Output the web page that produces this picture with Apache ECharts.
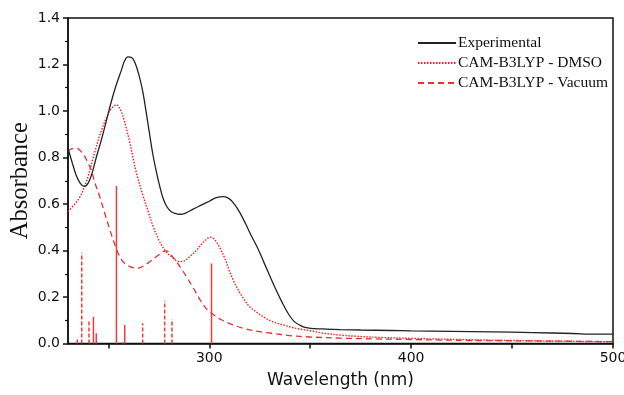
<!DOCTYPE html>
<html><head><meta charset="utf-8">
<script src="https://cdn.jsdelivr.net/npm/echarts@6/dist/echarts.min.js"></script>
<style>html,body{margin:0;padding:0;background:#fff}#c{width:624px;height:395px}</style>
</head><body><div id="c"></div>
<script>
var xTickValues = [250, 300, 350, 400, 450, 500];
var xLabelValues = [300, 400, 500];
var expWl = [230,232,234,236,238,240,242,244,246.5,249,251.5,254,256.5,258,259.7,261.5,263,265,267,269,272,274,275.5,277,279,281,283,285.5,288,292,296,300,303.5,307,310,312.5,315,318,321,324,327,330,333,336,339,342,345,348,352,358,365,375,390,400,420,440,460,480,490,500];
var expAbs = [0.84,0.78,0.725,0.69,0.676,0.69,0.735,0.80,0.875,0.958,1.042,1.115,1.177,1.215,1.233,1.23,1.212,1.16,1.085,0.98,0.815,0.73,0.675,0.627,0.588,0.568,0.56,0.556,0.56,0.578,0.595,0.612,0.627,0.632,0.622,0.598,0.565,0.515,0.46,0.41,0.35,0.29,0.232,0.178,0.13,0.095,0.078,0.068,0.064,0.062,0.06,0.058,0.056,0.054,0.052,0.05,0.047,0.043,0.04,0.04];
var dmsoWl = [230,233,236,238,240,243,246.5,250,252,254,256,258,260.6,262.2,264,267.2,270,272.1,275,277.1,279,281.2,283,285.4,288,290.5,293.6,297,300.6,302.5,305,308,310,312,315,318,320,323.4,328,332,336.5,343,350,356,365,373,385,400,425,450,475,500];
var dmsoAbs = [0.567,0.596,0.632,0.67,0.72,0.815,0.915,0.99,1.015,1.027,1.005,0.955,0.865,0.80,0.73,0.635,0.56,0.505,0.445,0.413,0.39,0.374,0.36,0.352,0.357,0.375,0.40,0.435,0.457,0.448,0.415,0.36,0.31,0.27,0.22,0.18,0.158,0.135,0.108,0.092,0.08,0.065,0.055,0.045,0.036,0.031,0.026,0.022,0.017,0.013,0.01,0.007];
var vacWl = [230,232,234,236,238.3,240,241.6,243,245.7,248.2,250.7,253,255.6,258,260.6,262.5,264.7,267.5,270.5,274,277.1,279,280.4,283,285.4,288.5,292,295.3,298,300.6,303.5,306,311.8,318,324,331,340,350,365,380,400,430,460,500];
var vacAbs = [0.828,0.838,0.84,0.83,0.805,0.775,0.745,0.70,0.632,0.56,0.49,0.43,0.374,0.345,0.331,0.326,0.324,0.333,0.352,0.375,0.395,0.398,0.388,0.36,0.331,0.29,0.24,0.19,0.155,0.133,0.115,0.102,0.08,0.063,0.052,0.044,0.034,0.028,0.023,0.02,0.017,0.013,0.011,0.008];
var dmsoStickWl = [242.6,244,254,257,258.1,301.1];
var dmsoStickF = [0.115,0.044,0.678,0.005,0.08,0.344];
var vacStickWl = [234.6,236.8,240.4,267,277.9,281.5];
var vacStickF = [0.027,0.39,0.098,0.087,0.184,0.104];

function zip(a,b){return a.map(function(v,i){return [v,b[i]];});}
function stickSeries(wl,f,dash){
  return {type:'custom', silent:true, z:1,
    data: zip(wl,f),
    renderItem: function(params, api){
      var p0 = api.coord([api.value(0), 0]);
      var p1 = api.coord([api.value(0), api.value(1)]);
      return {type:'line', shape:{x1:p0[0],y1:p0[1],x2:p1[0],y2:p1[1]},
        style:{stroke:'#f03c3c', lineWidth:1.5, lineDash:dash}};
    }};
}
var chart = echarts.init(document.getElementById('c'), null, {renderer:'canvas'});
chart.setOption({
  animation:false,
  backgroundColor:'#fff',
  grid:{left:68, right:11, top:18, bottom:51.5, outerBoundsMode:'none', containLabel:false,
    show:true, borderColor:'#111', borderWidth:1.5, backgroundColor:'transparent'},
  legend:{data:['Experimental','CAM-B3LYP - DMSO','CAM-B3LYP - Vacuum'], orient:'vertical', right:11, top:30,
    itemWidth:38, itemHeight:10, itemGap:4, itemStyle:{opacity:0},
    textStyle:{fontFamily:'Liberation Serif', fontSize:15.5, color:'#111', padding:[0,0,0,-3]}},
  xAxis:{type:'value', min:230, max:500,
    name:'Wavelength (nm)', nameLocation:'middle', nameGap:29, nameMoveOverlap:false,
    nameTextStyle:{fontFamily:'DejaVu Sans', fontSize:17, color:'#111'},
    axisLine:{onZero:false, lineStyle:{color:'#111', width:1.5}},
    axisTick:{show:true, length:5, customValues:xTickValues, lineStyle:{color:'#111', width:1.5}},
    axisLabel:{margin:8, fontFamily:'DejaVu Sans', fontSize:14, color:'#111', customValues:xLabelValues},
    splitLine:{show:false}},
  yAxis:{type:'value', min:0, max:1.4, interval:0.2,
    name:'Absorbance', nameLocation:'middle', nameGap:35, nameMoveOverlap:false,
    nameTextStyle:{fontFamily:'Liberation Serif', fontSize:24.5, color:'#111'},
    axisLine:{show:true, lineStyle:{color:'#111', width:1.5}},
    axisTick:{show:true, length:5, lineStyle:{color:'#111', width:1.5}},
    minorTick:{show:true, splitNumber:2, length:3, lineStyle:{color:'#111', width:1.2}},
    axisLabel:{margin:8, fontFamily:'DejaVu Sans', fontSize:14, color:'#111',
      formatter:function(v){return v.toFixed(1);}},
    splitLine:{show:false}},
  series:[
    stickSeries(vacStickWl, vacStickF, [4,2]),
    stickSeries(dmsoStickWl, dmsoStickF, null),
    {name:'Experimental', type:'line', data:zip(expWl,expAbs), smooth:0.35, symbol:'none', z:3,
      lineStyle:{color:'#222', width:1.3}, itemStyle:{color:'#222'}},
    {name:'CAM-B3LYP - DMSO', type:'line', data:zip(dmsoWl,dmsoAbs), smooth:0.35, symbol:'none', z:2,
      lineStyle:{color:'#ff1a1a', width:1.4, type:[1.5,1.5]}, itemStyle:{color:'#ff1a1a'}},
    {name:'CAM-B3LYP - Vacuum', type:'line', data:zip(vacWl,vacAbs), smooth:0.35, symbol:'none', z:2,
      lineStyle:{color:'#e83030', width:1.3, type:[6,4]}, itemStyle:{color:'#e83030'}}
  ]
});
</script></body></html>
